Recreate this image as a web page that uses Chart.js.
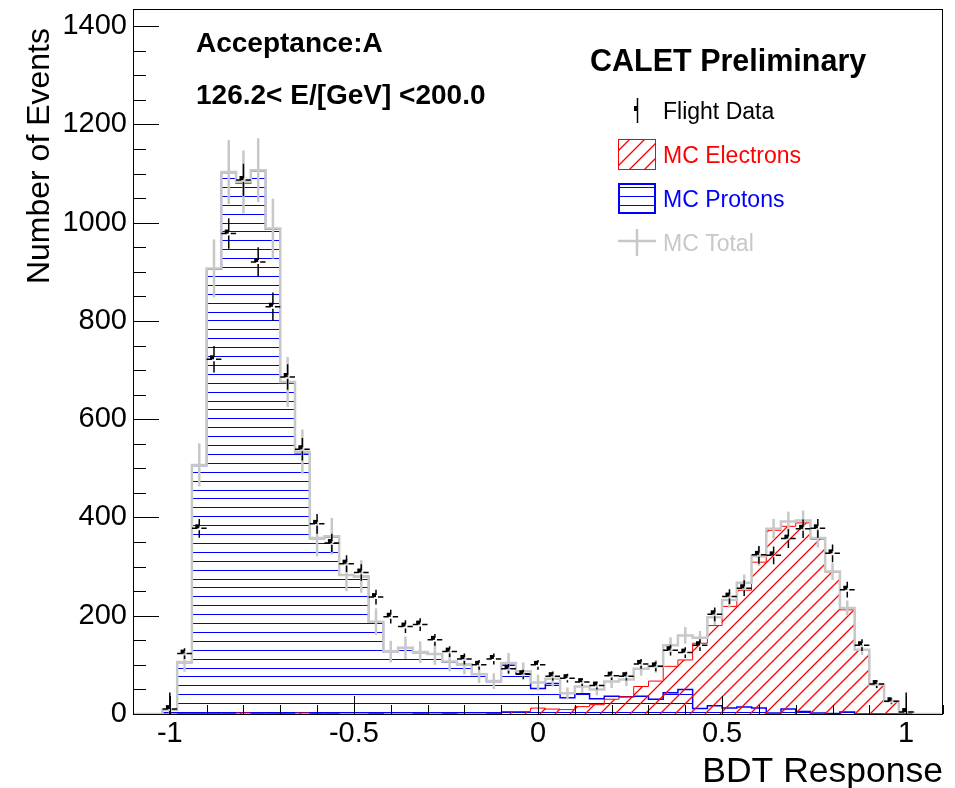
<!DOCTYPE html>
<html>
<head>
<meta charset="utf-8">
<title>BDT Response</title>
<script src="https://cdn.jsdelivr.net/npm/chart.js@4.4.1/dist/chart.umd.min.js"></script>
<style>
  html, body { margin: 0; padding: 0; background: #fff; overflow: hidden; }
  #wrap { width: 955px; height: 788px; position: relative; }
</style>
</head>
<body>
<div id="wrap"><canvas id="bdt"></canvas></div>
<script>
  // bins of width 0.04 from -1.1 to 1.1
  const binWidth = 0.04;
  const binCenters = [
    -1.08, -1.04, -1.00, -0.96, -0.92, -0.88, -0.84, -0.80, -0.76, -0.72, -0.68,
    -0.64, -0.60, -0.56, -0.52, -0.48, -0.44, -0.40, -0.36, -0.32, -0.28, -0.24,
    -0.20, -0.16, -0.12, -0.08, -0.04, 0.00, 0.04, 0.08, 0.12, 0.16, 0.20,
    0.24, 0.28, 0.32, 0.36, 0.40, 0.44, 0.48, 0.52, 0.56, 0.60, 0.64,
    0.68, 0.72, 0.76, 0.80, 0.84, 0.88, 0.92, 0.96, 1.00, 1.04, 1.08
  ];

  const flightData = [null, null,
    10, 123, 378, 722, 978, 1087, 920, 829, 686, 539, 387, 348, 306, 288, 238, 198, 178,
    182, 151, 127, 112, 100, 112, 92, 81, 100, 77, 73, 65, 58, 78, 77, 102, 97, 130,
    125, 140, 203, 239, 256, 324, 323, 357, 377, 378, 327, 253, 140, 61, 26, 4,
    null, null];
  const flightErr = [null, null,
    34, 11, 19, 27, 31, 33, 30, 29, 26, 23, 20, 19, 17, 17, 15, 14, 13,
    13, 12, 11, 11, 10, 11, 10, 9, 10, 9, 9, 8, 8, 9, 9, 10, 10, 11,
    11, 12, 14, 15, 16, 18, 18, 19, 19, 19, 18, 16, 12, 8, 6, 40,
    null, null];

  const mcElectrons = [null, null,
    0, 1, 1, 1, 1, 2, 1, 1, 1, 2, 1, 1, 0, 0, 1, 0, 0,
    1, 0, 1, 0, 0, 1, 5, 5, 12, 10, 9, 15, 19, 30, 35, 56, 67, 97,
    110, 144, 180, 219, 252, 309, 374, 382, 389, 356, 289, 212, 131, 60, 26, 4,
    null, null];

  const mcProtons = [null, null,
    8, 105, 506, 906, 1102, 1081, 1106, 987, 675, 532, 357, 361, 283, 280, 187, 127, 135,
    125, 122, 106, 101, 81, 66, 99, 82, 52, 62, 33, 41, 31, 36, 35, 36, 30, 43,
    50, 11, 17, 12, 14, 12, 2, 10, 5, 2, 1, 4, 0, 0, 0, 0,
    null, null];

  const mcTotal = [0, 0,
    8, 106, 507, 907, 1103, 1083, 1107, 988, 676, 534, 358, 362, 283, 280, 188, 127, 135,
    126, 122, 107, 101, 81, 67, 104, 87, 64, 72, 42, 56, 50, 66, 70, 92, 97, 140,
    160, 155, 197, 232, 267, 321, 377, 392, 394, 358, 290, 216, 131, 60, 26, 4,
    0, 0];
  const mcTotalErr = [0, 0,
    6, 20, 44, 59, 65, 64, 65, 61, 51, 45, 37, 37, 33, 33, 27, 22, 23,
    22, 22, 20, 20, 18, 16, 20, 18, 16, 16, 12, 13, 12, 13, 13, 14, 13, 16,
    17, 14, 16, 16, 17, 19, 20, 20, 20, 19, 17, 15, 11, 8, 5, 2,
    0, 0];

  const xTicks = [-1, -0.5, 0, 0.5, 1];
  const xTickLabels = ['-1', '-0.5', '0', '0.5', '1'];
  const yTicks = [0, 200, 400, 600, 800, 1000, 1200, 1400];

  const FONT = '"Liberation Sans", Arial, Helvetica, sans-serif';
  const GREY = '#c8c8c8';
  const RED = '#ff0000';
  const BLUE = '#0000ff';

  // histogram outline: one point at each bin edge
  function stepPoints(values) {
    const pts = [];
    binCenters.forEach((c, i) => {
      if (values[i] === null) return;
      pts.push({ x: c - binWidth / 2, y: values[i] }, { x: c + binWidth / 2, y: values[i] });
    });
    pts.unshift({ x: pts[0].x, y: 0 });
    pts.push({ x: pts[pts.length - 1].x, y: 0 });
    return pts;
  }

  // horizontal hatch (protons)
  const hc = document.createElement('canvas');
  hc.width = 8; hc.height = 89;
  const hg = hc.getContext('2d');
  hg.fillStyle = BLUE;
  for (let k = 0; k < 10; k++) hg.fillRect(0, Math.round(k * 8.9), 8, 1);
  const blueHatch = hg.createPattern(hc, 'repeat');

  // diagonal hatch (electrons), drawn straight onto the chart inside a clip
  function diagonalHatch(ctx, top, bottom, left, right) {
    const h = bottom - top;
    ctx.strokeStyle = RED;
    ctx.lineWidth = 1.3;
    ctx.beginPath();
    for (let s = left - h - (left % 15); s < right; s += 15) {
      ctx.moveTo(s, bottom); ctx.lineTo(s + h, top);
    }
    ctx.stroke();
  }

  // small square marker sitting up-left of the point, like the ROOT picture
  const marker = document.createElement('canvas');
  marker.width = 10; marker.height = 10;
  marker.getContext('2d').fillRect(1, 1, 4, 4);

  const dataPoints = [];
  binCenters.forEach((c, i) => {
    if (flightData[i] !== null) dataPoints.push({ x: c, y: flightData[i], err: flightErr[i] });
  });

  const rootStyle = {
    id: 'rootStyle',
    beforeDatasetDraw(chart, args) {
      if (args.index !== 2) return;
      const { ctx, chartArea: a } = chart;
      const pts = chart.getDatasetMeta(2).data;
      ctx.save();
      ctx.beginPath(); ctx.rect(a.left, a.top, a.right - a.left, a.bottom - a.top); ctx.clip();
      ctx.beginPath();
      ctx.moveTo(pts[0].x, pts[0].y);
      pts.forEach(p => ctx.lineTo(p.x, p.y));
      ctx.closePath();
      ctx.clip();
      diagonalHatch(ctx, a.top, a.bottom, a.left, a.right);
      ctx.restore();
    },
    afterDatasetDraw(chart, args) {
      if (args.index !== 1) return;
      const { ctx, chartArea: a, scales: { x, y } } = chart;
      ctx.save();
      ctx.beginPath(); ctx.rect(a.left, a.top, a.right - a.left, a.bottom - a.top); ctx.clip();
      ctx.strokeStyle = GREY; ctx.lineWidth = 2.5;
      binCenters.forEach((c, i) => {
        if (!mcTotalErr[i]) return;
        const px = x.getPixelForValue(c);
        ctx.beginPath();
        ctx.moveTo(px, y.getPixelForValue(mcTotal[i] + mcTotalErr[i]));
        ctx.lineTo(px, y.getPixelForValue(Math.max(mcTotal[i] - mcTotalErr[i], 0)));
        ctx.stroke();
      });
      ctx.restore();
    },
    afterDatasetsDraw(chart) {
      const { ctx, chartArea: a, scales: { x, y } } = chart;
      ctx.save();
      ctx.beginPath(); ctx.rect(a.left, a.top, a.right - a.left, a.bottom - a.top); ctx.clip();
      // flight data error bars
      ctx.strokeStyle = '#000'; ctx.lineWidth = 1.5;
      const hw = x.getPixelForValue(binWidth / 2) - x.getPixelForValue(0);
      dataPoints.forEach(p => {
        const px = x.getPixelForValue(p.x), py = y.getPixelForValue(p.y);
        const top = y.getPixelForValue(p.y + p.err);
        const bot = y.getPixelForValue(Math.max(p.y - p.err, 0));
        ctx.beginPath();
        ctx.moveTo(px, top); ctx.lineTo(px, py - 2);
        ctx.moveTo(px, py + 2); ctx.lineTo(px, bot);
        ctx.moveTo(px - hw, py); ctx.lineTo(px - 2, py);
        ctx.moveTo(px + 2, py); ctx.lineTo(px + hw, py);
        ctx.stroke();
      });
      ctx.restore();

      // frame and inward ticks
      ctx.save();
      ctx.strokeStyle = '#000'; ctx.lineWidth = 1;
      ctx.strokeRect(a.left + 0.5, a.top + 0.5, a.right - a.left - 1, a.bottom - a.top);
      ctx.beginPath();
      for (let v = 0; v <= 1400; v += 50) {
        const py = Math.round(y.getPixelForValue(v)) + 0.5;
        ctx.moveTo(a.left, py); ctx.lineTo(a.left + (v % 200 === 0 ? 26 : 13), py);
      }
      for (let k = -11; k <= 11; k++) {
        const px = Math.round(x.getPixelForValue(k / 10)) + 0.5;
        ctx.moveTo(px, a.bottom); ctx.lineTo(px, a.bottom - (k % 5 === 0 ? 18 : 9));
      }
      ctx.stroke();
      ctx.restore();
    },
    afterDraw(chart) {
      const { ctx, chartArea: a } = chart;
      ctx.save();
      ctx.fillStyle = '#000';
      ctx.textBaseline = 'alphabetic';
      ctx.font = 'bold 28px ' + FONT;
      ctx.fillText('Acceptance:A', 196, 52);
      ctx.fillText('126.2< E/[GeV] <200.0', 196, 104);
      ctx.font = 'bold 30.5px ' + FONT;
      ctx.fillText('CALET Preliminary', 590, 71);

      // axis titles
      ctx.font = '35.5px ' + FONT;
      ctx.textAlign = 'right';
      ctx.fillText('BDT Response', a.right, 782);
      ctx.save();
      ctx.translate(49, 28);
      ctx.rotate(-Math.PI / 2);
      ctx.font = '32px ' + FONT;
      ctx.fillText('Number of Events', 0, 0);
      ctx.restore();

      // legend
      ctx.textAlign = 'left';
      ctx.font = '23px ' + FONT;
      ctx.fillStyle = '#000';
      ctx.fillText('Flight Data', 663, 119);
      ctx.fillStyle = RED;
      ctx.fillText('MC Electrons', 663, 163);
      ctx.fillStyle = BLUE;
      ctx.fillText('MC Protons', 663, 207);
      ctx.fillStyle = GREY;
      ctx.fillText('MC Total', 663, 251);

      ctx.strokeStyle = '#000'; ctx.lineWidth = 1.5;
      ctx.beginPath(); ctx.moveTo(637.5, 98); ctx.lineTo(637.5, 123); ctx.stroke();
      ctx.fillStyle = '#000'; ctx.fillRect(634, 106, 4, 5);

      ctx.save();
      ctx.beginPath(); ctx.rect(618, 139, 38, 31); ctx.clip();
      diagonalHatch(ctx, 139, 170, 600, 680);
      ctx.restore();
      ctx.strokeStyle = RED; ctx.lineWidth = 1;
      ctx.strokeRect(618.5, 139.5, 37, 30);

      ctx.fillStyle = blueHatch; ctx.fillRect(618, 183, 38, 31);
      ctx.strokeStyle = BLUE; ctx.lineWidth = 2;
      ctx.strokeRect(619, 184, 36, 29);

      ctx.strokeStyle = GREY; ctx.lineWidth = 2.5;
      ctx.beginPath();
      ctx.moveTo(618, 241); ctx.lineTo(656, 241);
      ctx.moveTo(637, 229); ctx.lineTo(637, 256);
      ctx.stroke();
      ctx.restore();
    }
  };

  new Chart(document.getElementById('bdt'), {
    data: {
      datasets: [
        {
          type: 'scatter', label: 'Flight Data', data: dataPoints,
          pointStyle: marker, pointRadius: 5, pointHoverRadius: 5
        },
        {
          type: 'line', label: 'MC Total', data: stepPoints(mcTotal),
          borderColor: GREY, borderWidth: 2.5, pointRadius: 0, fill: false,
          borderJoinStyle: 'miter', tension: 0
        },
        {
          type: 'line', label: 'MC Electrons', data: stepPoints(mcElectrons),
          borderColor: RED, borderWidth: 1, pointRadius: 0, fill: false, tension: 0
        },
        {
          type: 'line', label: 'MC Protons', data: stepPoints(mcProtons),
          borderColor: BLUE, borderWidth: 1.5, pointRadius: 0,
          fill: 'origin', backgroundColor: blueHatch, tension: 0
        }
      ]
    },
    options: {
      responsive: true,
      maintainAspectRatio: false,
      animation: false,
      events: [],
      layout: { autoPadding: false, padding: { top: 9, right: 12, left: 0, bottom: 0 } },
      plugins: { legend: { display: false }, tooltip: { enabled: false } },
      scales: {
        x: {
          type: 'linear', min: -1.1, max: 1.1,
          grid: { display: false, drawTicks: false },
          border: { display: false },
          afterBuildTicks: (s) => { s.ticks = xTicks.map(v => ({ value: v })); },
          afterFit: (s) => { s.height = 74; s.paddingLeft = 0; s.paddingRight = 0; },
          ticks: {
            autoSkip: false, maxRotation: 0, padding: 3, color: '#000',
            font: { family: FONT, size: 29 },
            callback: (v) => xTickLabels[xTicks.indexOf(v)]
          }
        },
        y: {
          type: 'linear', min: 0, max: 1435,
          grid: { display: false, drawTicks: false },
          border: { display: false },
          afterBuildTicks: (s) => { s.ticks = yTicks.map(v => ({ value: v })); },
          afterFit: (s) => { s.width = 133; s.paddingTop = 0; s.paddingBottom = 0; },
          ticks: {
            autoSkip: false, padding: 6, color: '#000',
            font: { family: FONT, size: 29 },
            callback: (v) => String(v)
          }
        }
      }
    },
    plugins: [rootStyle]
  });
</script>
</body>
</html>
